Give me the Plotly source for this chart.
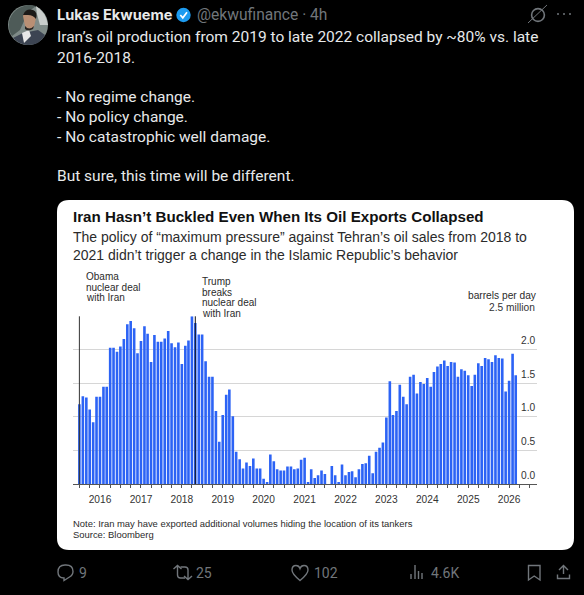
import re
import plotly.graph_objects as go
import pandas as pd

W, H = 584, 595

# ---- data ----
start_month = "2015-07-01"
exports = [
    1.19, 1.31, 1.29, 1.11, 0.92, 1.30,
    1.30, 1.45, 1.45, 2.03, 2.03, 1.97, 2.05, 2.16, 2.38, 2.43, 2.32, 1.95,
    2.13, 2.35, 2.24, 1.82, 2.22, 2.12, 2.12, 2.17, 2.28, 2.10, 2.04, 2.11,
    1.79, 2.06, 2.14, 2.50, 2.40, 2.23, 2.23, 1.83, 1.60, 1.60, 1.09, 0.63,
    1.03, 1.33, 1.41, 1.01, 0.48, 0.37, 0.23, 0.32, 0.27, 0.38, 0.23, 0.23,
    0.08, 0.03, 0.44, 0.34, 0.22, 0.20, 0.20, 0.26, 0.26, 0.22, 0.23, 0.36,
    0.39, 0.03, 0.22, 0.09, 0.13, 0.20, 0.15, 0.00, 0.27, 0.13, 0.03, 0.29,
    0.13, 0.18, 0.19, 0.10, 0.22, 0.30, 0.31, 0.42, 0.16, 0.48, 0.54, 0.62,
    0.99, 1.53, 1.03, 1.09, 1.48, 1.30, 1.19, 1.60, 1.63, 1.35, 1.52, 1.49,
    1.58, 1.45, 1.67, 1.75, 1.79, 1.84, 1.76, 1.82, 1.81, 1.60, 1.71, 1.69,
    1.62, 1.46, 1.63, 1.80, 1.76, 1.88, 1.86, 1.82, 1.92, 1.88, 1.87, 1.38,
    1.54, 1.94, 1.62,
]
months = pd.date_range(start_month, periods=len(exports), freq="MS").strftime("%Y-%m-%d").tolist()
y_ticks = [0, 0.5, 1.0, 1.5, 2.0, 2.5]
y_labels = ["0.0", "0.5", "1.0", "1.5", "2.0", "2.5 million"]
year_ticks = [f"{y}-01-01" for y in range(2016, 2027)]
year_labels = [str(y) for y in range(2016, 2027)]
obama_date = "2015-07-01"
trump_date = "2018-05-01"
tweet_lines = [
    (37, "Iran’s oil production from 2019 to late 2022 collapsed by ~80% vs. late"),
    (58, "2016-2018."),
    (97, "- No regime change."),
    (117, "- No policy change."),
    (137, "- No catastrophic well damage."),
    (176, "But sure, this time will be different."),
]
counts = [(79, "9"), (196, "25"), (314, "102"), (431, "4.6K")]

# ---- helpers (pixel layout to paper fractions) ----
def px(x): return x / W
def py(y): return 1 - y / H

def path(d):
    out, i = [], 0
    for tok in re.findall(r"[A-Za-z]|-?[\d.]+", d):
        if tok.isalpha():
            out.append(tok)
        else:
            out.append(f"{px(float(tok)) if i % 2 == 0 else py(float(tok)):.5f}")
            i += 1
    return " ".join(out)

def pshape(d, fill=None, line=None, lw=1.5):
    return dict(type="path", xref="paper", yref="paper", path=path(d), layer="below",
                fillcolor=fill or "rgba(0,0,0,0)",
                line=dict(color=line or "rgba(0,0,0,0)", width=lw if line else 0))

def circle(cx, cy, r, fill=None, line=None, lw=1.5):
    return dict(type="circle", xref="paper", yref="paper", layer="below",
                x0=px(cx - r), x1=px(cx + r), y0=py(cy + r), y1=py(cy - r),
                fillcolor=fill or "rgba(0,0,0,0)",
                line=dict(color=line or "rgba(0,0,0,0)", width=lw if line else 0))

def text(x, y, s, size, color, family="Liberation Sans", anchor="left", bold=False):
    return dict(xref="paper", yref="paper", x=px(x), y=py(y), text=f"<b>{s}</b>" if bold else s,
                showarrow=False, xanchor=anchor, yanchor="middle", align=anchor,
                font=dict(size=size, color=color, family=family), borderpad=0, borderwidth=0)

TW = "Roboto"
GREY = "#71767B"
INK = "#2b2b2b"

fig = go.Figure(go.Bar(x=months, y=exports, marker=dict(color="#2C63F5", line=dict(width=0)), hoverinfo="x+y"))

shapes = [
    # card
    pshape("M 69 200 L 562 200 Q 574 200 574 212 L 574 538 Q 574 550 562 550 L 69 550 Q 57 550 57 538 L 57 212 Q 57 200 69 200 Z", fill="#FFFFFF"),
    # avatar
    circle(28, 25, 20, fill="#7F8B88"),
    pshape("M 9 22 Q 12 8 28 5 Q 33 5 36 6 L 28 12 L 20 30 L 12 36 Q 8 30 9 22 Z", fill="#4E5B58"),
    pshape("M 36 6 Q 46 12 48 25 L 40 25 L 37 14 Z", fill="#C9CECC"),
    pshape("M 23 33 L 13 38 Q 20 45 28 45 Q 40 45 45 35 L 38 30 Z", fill="#3C4452"),
    pshape("M 22 33 L 24 43 L 31 36 L 29 30 Z", fill="#E8E8E8"),
    pshape("M 23 16 Q 25 10 31 10 Q 37 11 36 18 L 34 27 Q 28 31 25 26 Z", fill="#B98F74"),
    pshape("M 23 15 Q 26 8 33 10 Q 38 12 36 19 Q 33 15 28 15 Z", fill="#1C1A18"),
    pshape("M 25 26 Q 29 31 34 26 L 33 29 Q 28 32 25 29 Z", fill="#2A2420"),
    # verified badge
    circle(183.5, 15, 7.2, fill="#1D9BF0"),
    pshape("M 180.3 15 L 182.8 17.8 L 187 12.2", line="#FFFFFF", lw=1.7),
    # top right
    circle(538, 15, 6.4, line="#71767B", lw=1.6),
    pshape("M 528 23 L 547 5", line="#71767B", lw=1),
    circle(558, 14, 1, fill=GREY), circle(564, 14, 1, fill=GREY), circle(570, 14, 1, fill=GREY),
    # reply
    pshape("M 58 572 Q 58 565 65 565 L 66 565 Q 73 565 73 571.5 Q 73 575 69.5 577 L 64 580.5 L 64 578 Q 58 578 58 572 Z", line=GREY, lw=1.4),
    # retweet
    pshape("M 173.5 569 L 177.5 565.5 L 181.5 569 M 177.5 566 L 177.5 575 Q 177.5 578 180.5 578 L 185 578", line=GREY, lw=1.4),
    pshape("M 192 576 L 188 579.5 L 184 576 M 188 579 L 188 570 Q 188 567 185 567 L 180.5 567", line=GREY, lw=1.4),
    # heart
    pshape("M 300 580.5 Q 292 574 292 570 Q 292 565.5 296 565.5 Q 299 565.5 300 568.5 Q 301 565.5 304 565.5 Q 308 565.5 308 570 Q 308 574 300 580.5 Z", line=GREY, lw=1.4),
    # views
    pshape("M 411 579 L 411 574 M 415 579 L 415 565 M 418.5 579 L 418.5 571 M 422 579 L 422 573", line=GREY, lw=1.4),
    # bookmark
    pshape("M 528.5 565.5 L 540 565.5 L 540 580 L 534.2 576 L 528.5 580 Z", line=GREY, lw=1.4),
    # share
    pshape("M 563.5 574 L 563.5 566 M 559 570 L 563.5 565.5 L 568 570 M 557.5 574.5 L 557.5 578.5 L 569.5 578.5 L 569.5 574.5", line=GREY, lw=1.4),
    # event lines
    dict(type="line", xref="x", yref="paper", x0=obama_date, x1=obama_date, y0=py(484), y1=py(316.3), line=dict(color="#333333", width=1)),
    dict(type="line", xref="x", yref="paper", x0=trump_date, x1=trump_date, y0=py(484), y1=py(316.3), line=dict(color="#111111", width=1)),
]

ann = [
    text(56.5, 15, "Lukas Ekwueme", 14.6, "#E7E9EA", "Inter", bold=True),
    text(197, 15, "@ekwufinance · 4h", 15.6, GREY, TW),
    text(73, 216, "Iran Hasn’t Buckled Even When Its Oil Exports Collapsed", 15.15, "#111111", bold=True),
    text(73, 237, "The policy of “maximum pressure” against Tehran’s oil sales from 2018 to", 14, INK),
    text(73, 255, "2021 didn’t trigger a change in the Islamic Republic’s behavior", 14, INK),
    text(85.7, 276, "Obama", 10, INK), text(85.7, 287, "nuclear deal", 10, INK), text(85.7, 297, "with Iran", 10, INK),
    text(201.7, 281.7, "Trump", 10, INK), text(201.7, 292, "breaks", 10, INK),
    text(201.7, 302.7, "nuclear deal", 10, INK), text(201.7, 313, "with Iran", 10, INK),
    text(537, 295.7, "barrels per day", 10.2, INK, anchor="right"),
    text(73, 523, "Note: Iran may have exported additional volumes hiding the location of its tankers", 9.43, INK),
    text(73, 534, "Source: Bloomberg", 9.43, INK),
]
ann += [text(57, y, s, 15.5, "#E7E9EA", TW) for y, s in tweet_lines]
ann += [text(x, 573, s, 14, GREY, TW) for x, s in counts]
# value-axis labels sit just above their gridlines at the right end
ann += [dict(xref="paper", yref="y", x=px(537), y=v, text=s, showarrow=False, xanchor="right", yanchor="middle",
             yshift=9, font=dict(family="Liberation Sans", size=10.2, color="#333333"))
        for v, s in zip(y_ticks, y_labels)]

fig.update_layout(
    width=W, height=H, autosize=False,
    margin=dict(l=0, r=0, t=0, b=0, pad=0),
    paper_bgcolor="#000000", plot_bgcolor="rgba(0,0,0,0)",
    showlegend=False, bargap=0.17,
    shapes=shapes, annotations=ann,
    xaxis=dict(
        domain=[px(73), px(537)], type="date", range=["2015-05-05", "2026-09-07"],
        tickvals=year_ticks, ticktext=year_labels, ticks="outside", ticklen=3, tickwidth=1, tickcolor="#555555",
        minor=dict(dtick="M3", tick0="2016-01-01", ticks="outside", ticklen=3, tickwidth=1, tickcolor="#555555", showgrid=False),
        showgrid=False, showline=True, linecolor="#555555", linewidth=1.2, zeroline=False,
        tickfont=dict(family="Liberation Sans", size=10.2, color="#333333"),
        ticklabelstandoff=3,
    ),
    yaxis=dict(
        domain=[py(484), py(316.3)], range=[0, 2.5], side="right",
        tickvals=y_ticks, ticks="", showticklabels=False,
        showgrid=True, gridcolor="#D6D6D6", gridwidth=1, zeroline=False, showline=False,
    ),
)

fig.write_html("out.html", config=dict(displayModeBar=False),
               post_script="document.body.style.margin='0';document.body.style.background='#000';document.documentElement.style.overflow='hidden';")
